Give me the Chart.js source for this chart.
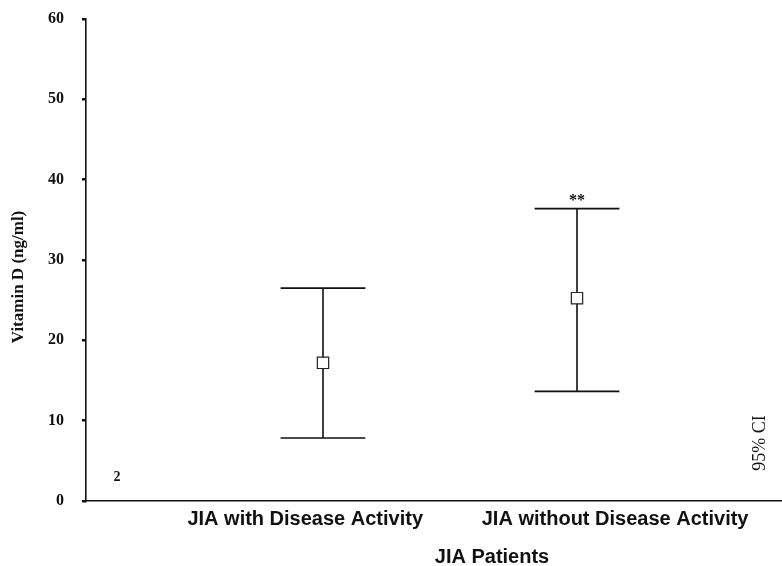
<!DOCTYPE html>
<html><head><meta charset="utf-8">
<script src="https://cdn.jsdelivr.net/npm/chart.js@4.4.1/dist/chart.umd.min.js"></script>
<style>html,body{margin:0;padding:0;background:#fff;overflow:hidden}#wrap{width:782px;height:566px;position:relative}</style>
</head><body><div id="wrap"><canvas id="c" width="782" height="566"></canvas></div>
<script>
// ---- data ----
const categories = ['JIA with Disease Activity', 'JIA without Disease Activity'];
const groupPositions = [1, 2];
const meanValues = [17.2, 25.25];
const lowerCI = [7.85, 13.65];
const upperCI = [26.5, 36.4];
const significance = ['', '**'];
const yTickValues = [0, 10, 20, 30, 40, 50, 60];

// ---- styling ----
const SERIF = '"Liberation Serif","Times New Roman",serif';
const SANS = '"Liberation Sans",Arial,sans-serif';
const INK = '#111';
const capHalfWidth = 0.167;          // in x-axis units
const labelPositions = [0.93, 2.15]; // where category labels sit on the x axis

const errorBars = {
  id: 'errorBars',
  beforeDatasetsDraw(chart) {
    const {ctx, scales: {x, y}} = chart;
    ctx.save();
    ctx.strokeStyle = INK;
    ctx.lineWidth = 1.6;
    groupPositions.forEach((g, i) => {
      const px = x.getPixelForValue(g);
      const l = x.getPixelForValue(g - capHalfWidth);
      const r = x.getPixelForValue(g + capHalfWidth);
      const yl = y.getPixelForValue(lowerCI[i]);
      const yu = y.getPixelForValue(upperCI[i]);
      ctx.beginPath();
      ctx.moveTo(px, yu); ctx.lineTo(px, yl);
      ctx.moveTo(l, yu); ctx.lineTo(r, yu);
      ctx.moveTo(l, yl); ctx.lineTo(r, yl);
      ctx.stroke();
    });
    ctx.restore();
  },
  afterDatasetsDraw(chart) {
    const {ctx, scales: {x, y}} = chart;
    ctx.save();
    ctx.fillStyle = INK;
    ctx.font = 'bold 16px ' + SERIF;
    ctx.textAlign = 'center';
    ctx.textBaseline = 'alphabetic';
    groupPositions.forEach((g, i) => {
      if (!significance[i]) return;
      ctx.fillText(significance[i], x.getPixelForValue(g), y.getPixelForValue(upperCI[i]) - 4);
    });
    ctx.restore();
  }
};

const notes = {
  id: 'notes',
  afterDraw(chart) {
    const {ctx, chartArea: a} = chart;
    ctx.save();
    ctx.fillStyle = INK;
    ctx.textAlign = 'center';
    ctx.textBaseline = 'middle';
    ctx.font = 'bold 20px ' + SANS;
    ctx.fillText('JIA Patients', 492, 557);
    ctx.font = 'bold 14px ' + SERIF;
    ctx.fillText('2', a.left + 31, a.bottom - 24);
    ctx.translate(760, 443);
    ctx.rotate(-Math.PI / 2);
    ctx.font = '18px ' + SERIF;
    ctx.fillText('95% CI', 0, 0);
    ctx.restore();
  }
};

new Chart(document.getElementById('c'), {
  type: 'scatter',
  data: {
    datasets: [{
      label: 'Mean',
      data: groupPositions.map((g, i) => ({x: g, y: meanValues[i]})),
      pointStyle: 'rect',
      pointRadius: 8,
      pointHoverRadius: 8,
      backgroundColor: '#fff',
      borderColor: '#222',
      borderWidth: 1.2,
      showLine: false
    }]
  },
  options: {
    responsive: false,
    animation: false,
    layout: {autoPadding: false, padding: {top: 19, right: 0, left: 0, bottom: 0}},
    plugins: {legend: {display: false}, tooltip: {enabled: false}},
    scales: {
      x: {
        type: 'linear',
        min: 0.067,
        max: 2.807,
        afterBuildTicks: s => { s.ticks = labelPositions.map(v => ({value: v})); },
        afterFit: s => { s.height = 65; s.paddingLeft = 0; s.paddingRight = 0; },
        ticks: {
          autoSkip: false, maxRotation: 0, padding: 6,
          color: INK,
          font: {family: SANS, weight: 'bold', size: 20},
          callback: (v, i) => categories[i]
        },
        grid: {display: false, drawTicks: false},
        border: {display: true, color: INK, width: 1.6}
      },
      y: {
        min: 0,
        max: 60,
        afterBuildTicks: s => { s.ticks = yTickValues.map(v => ({value: v})); },
        afterFit: s => { s.width = 86; s.paddingTop = 0; s.paddingBottom = 0; },
        ticks: {
          color: INK, padding: 18,
          font: {family: SERIF, weight: 'bold', size: 16}
        },
        grid: {drawOnChartArea: false, drawTicks: true, tickLength: 4, color: INK, lineWidth: 2.5},
        border: {display: true, color: INK, width: 1.6},
        title: {
          display: true, text: 'Vitamin D (ng/ml)        ', color: INK,
          font: {family: SERIF, weight: 'bold', size: 17},
          padding: {top: 8, bottom: 0}
        }
      }
    }
  },
  plugins: [errorBars, notes]
});
</script></body></html>
